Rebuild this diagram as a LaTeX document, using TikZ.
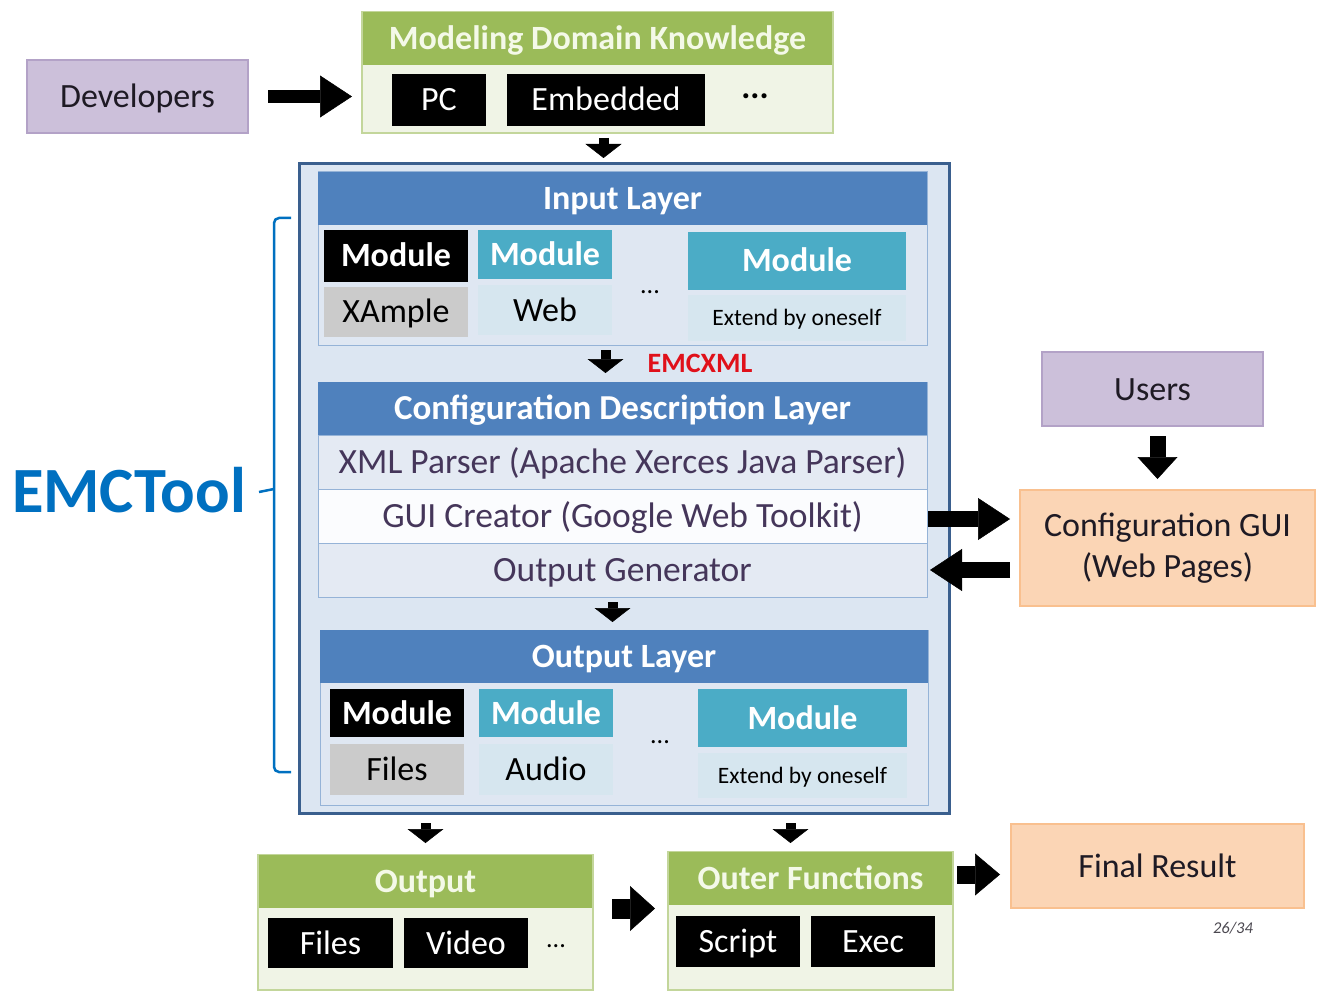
\documentclass[tikz,border=0pt]{standalone}
\usepackage{fontspec}
\setmainfont{Carlito}
\usetikzlibrary{arrows.meta}

\definecolor{lavfill}{HTML}{CCC0DA}
\definecolor{lavline}{HTML}{B3A2C7}
\definecolor{peachfill}{HTML}{FBD5B5}
\definecolor{peachline}{HTML}{F9C08F}
\definecolor{grhead}{HTML}{9BBB59}
\definecolor{grbody}{HTML}{F0F4E6}
\definecolor{grline}{HTML}{C3D69B}
\definecolor{grtext}{HTML}{F4F9E8}
\definecolor{bluehead}{HTML}{4F81BD}
\definecolor{panelbody}{HTML}{DFE7F2}
\definecolor{panelline}{HTML}{95B3D7}
\definecolor{outerfill}{HTML}{DCE6F2}
\definecolor{outerline}{HTML}{3A5F8E}
\definecolor{teal}{HTML}{4BACC6}
\definecolor{teallight}{HTML}{D6E6EF}
\definecolor{modgray}{HTML}{CBCBCB}
\definecolor{rowlight}{HTML}{E4EAF3}
\definecolor{rowwhite}{HTML}{FBFCFE}
\definecolor{purpletext}{HTML}{45365A}
\definecolor{darktext}{HTML}{1E1A24}
\definecolor{toolblue}{HTML}{0070C0}
\definecolor{xmlred}{HTML}{E0101A}

\newcommand\fsz[1]{\fontsize{#1}{#1}\selectfont}

\begin{document}
\begin{tikzpicture}[x=1pt,y=-1pt,
  every node/.style={inner sep=0pt, outer sep=0pt, align=center},
  oneline/.style={text height=27pt, text depth=5pt},
  person/.style={fill=lavfill, draw=lavline, line width=2.5pt, text=darktext, font=\fsz{34}},
  result/.style={fill=peachfill, draw=peachline, line width=2.5pt, text=darktext, font=\fsz{34}},
  greenbox/.style={fill=grbody, draw=grline, line width=1.5pt},
  greenhead/.style={fill=grhead, text=grtext, font=\bfseries\fsz{34}, oneline},
  blackbox/.style={fill=black, text=white, font=\fsz{34}, oneline},
  outerbox/.style={fill=outerfill, draw=outerline, line width=3pt},
  panel/.style={fill=panelbody, draw=panelline, line width=1pt},
  layerhead/.style={fill=bluehead, text=white, font=\bfseries\fsz{34}, oneline},
  modblack/.style={fill=black, text=white, font=\bfseries\fsz{34}, oneline},
  modteal/.style={fill=teal, text=white, font=\bfseries\fsz{34}, oneline},
  modgraylow/.style={fill=modgray, text=black, font=\fsz{34}, oneline},
  modlightlow/.style={fill=teallight, text=black, font=\fsz{34}, oneline},
  modsmall/.style={fill=teallight, text=black, font=\fsz{23.5}, text height=19pt, text depth=4pt},
  rowbox/.style={draw=panelline, line width=1pt, text=purpletext, font=\fsz{35.5}, text height=28pt, text depth=5pt},
  dots/.style={font=\fsz{26}, text=black},
  bigarrow/.style={line width=13pt, -{Triangle[length=32pt,width=42pt,line width=0.5pt]}},
  smallarrow/.style={line width=10pt, -{Triangle[length=14pt,width=36pt,line width=0.5pt]}},
]
\useasboundingbox (0,0) rectangle (1325,992);

% people and results
\node[person, oneline, minimum width=221pt, minimum height=73pt] (dev) at (137.5,96.5) {Developers};
\node[person, oneline, minimum width=221pt, minimum height=74pt] (users) at (1152.5,389) {Users};
\node[result, minimum width=295pt, minimum height=116pt] (cgui) at (1167.5,548) {Configuration GUI\\[7pt](Web Pages)};
\node[result, oneline, minimum width=293pt, minimum height=84pt] (final) at (1157.5,866) {Final Result};

% modeling domain knowledge
\node[greenbox, minimum width=471pt, minimum height=121pt] (mdk) at (597.5,72.5) {};
\node[greenhead, minimum width=469pt, minimum height=53pt] (mdkhead) at (597.5,39) {Modeling Domain Knowledge};
\node[blackbox, minimum width=94pt, minimum height=52pt] (pc) at (439,100) {PC};
\node[blackbox, minimum width=198pt, minimum height=52pt] (embedded) at (606,100) {Embedded};
\node[dots, font=\bfseries\fsz{34}] (mdkdots) at (755,96) {...};

% EMCTool container
\node[outerbox, minimum width=650pt, minimum height=649pt] (emc) at (624,488.5) {};

% input layer
\node[panel, minimum width=609pt, minimum height=173pt] (input) at (622.5,258.5) {};
\node[layerhead, minimum width=609pt, minimum height=53pt] (inhead) at (622.5,198.5) {Input Layer};
\node[modblack, minimum width=144pt, minimum height=52pt] (inA) at (396,256) {Module};
\node[modgraylow, minimum width=144pt, minimum height=50pt] (inAlow) at (396,312) {XAmple};
\node[modteal, minimum width=134pt, minimum height=49pt] (inB) at (545,254.5) {Module};
\node[modlightlow, minimum width=134pt, minimum height=50pt] (inBlow) at (545,310) {Web};
\node[dots] (indots) at (650,292) {...};
\node[modteal, minimum width=218pt, minimum height=58pt] (inC) at (797,261) {Module};
\node[modsmall, minimum width=218pt, minimum height=46pt] (inClow) at (797,318) {Extend by oneself};

\node[font=\bfseries\fsz{28}, text=xmlred] (emcxml) at (700,363) {EMCXML};

% configuration description layer
\node[panel, minimum width=609pt, minimum height=215pt] (config) at (622.5,489.5) {};
\node[layerhead, font=\bfseries\fsz{35}, minimum width=609pt, minimum height=53pt] (cfghead) at (622.5,408.5) {Configuration Description Layer};
\node[rowbox, fill=rowlight, minimum width=609pt, minimum height=54pt] (xmlrow) at (622.5,462) {XML Parser (Apache Xerces Java Parser)};
\node[rowbox, fill=rowwhite, minimum width=609pt, minimum height=54pt] (guirow) at (622.5,516) {GUI Creator (Google Web Toolkit)};
\node[rowbox, fill=rowlight, minimum width=609pt, minimum height=54pt] (outgen) at (622.5,570) {Output Generator};

% output layer
\node[panel, minimum width=608pt, minimum height=175pt] (outlayer) at (624,717.5) {};
\node[layerhead, minimum width=608pt, minimum height=53pt] (outhead) at (624,656.5) {Output Layer};
\node[modblack, minimum width=134pt, minimum height=48pt] (outA) at (397,713) {Module};
\node[modgraylow, minimum width=134pt, minimum height=51pt] (outAlow) at (397,769.5) {Files};
\node[modteal, minimum width=134pt, minimum height=48pt] (outB) at (546,713) {Module};
\node[modlightlow, minimum width=134pt, minimum height=51pt] (outBlow) at (546,769.5) {Audio};
\node[dots] (outdots) at (660,742) {...};
\node[modteal, minimum width=209pt, minimum height=58pt] (outC) at (802.5,718) {Module};
\node[modsmall, minimum width=209pt, minimum height=45pt] (outClow) at (802.5,775.5) {Extend by oneself};

% EMCTool label and brace
\node[font=\bfseries\fsz{64.5}, text=toolblue] (tool) at (129,490) {EMCTool};
\draw[toolblue, line width=2.5pt, rounded corners=5pt] (291,218) -- (274,218) -- (274,772) -- (291,772);
\draw[toolblue, line width=2.5pt] (274,489) -- (259,492);

% output
\node[greenbox, minimum width=335pt, minimum height=135pt] (out) at (425.5,922.5) {};
\node[greenhead, minimum width=333pt, minimum height=53pt] (outtitle) at (425.5,881.5) {Output};
\node[blackbox, minimum width=125pt, minimum height=50pt] (files) at (330.5,943) {Files};
\node[blackbox, minimum width=124pt, minimum height=50pt] (video) at (466,943) {Video};
\node[dots] (outbdots) at (556,946) {...};

% outer functions
\node[greenbox, minimum width=285pt, minimum height=138pt] (of) at (810.5,921) {};
\node[greenhead, minimum width=283pt, minimum height=53pt] (ofhead) at (810.5,878.5) {Outer Functions};
\node[blackbox, minimum width=124pt, minimum height=51pt] (script) at (738,941.5) {Script};
\node[blackbox, minimum width=124pt, minimum height=51pt] (exec) at (873,941.5) {Exec};

\node[font=\itshape\fsz{16.5}, text=darktext!80] (page) at (1233,928) {26/34};

% connectors
\draw[bigarrow, shorten <=20pt, shorten >=10pt] (dev.east) -- (dev.east -| mdk.west);
\draw[smallarrow, shorten <=5pt, shorten >=6pt] ([xshift=6pt]mdk.south) -- ([xshift=6pt]mdk.south |- emc.north);
\draw[smallarrow, shorten <=5pt, shorten >=9pt] ([xshift=-17pt]input.south) -- ([xshift=-17pt]input.south |- config.north);
\draw[smallarrow, shorten <=5pt, shorten >=8pt] ([xshift=-10pt]config.south) -- ([xshift=-10pt]config.south |- outlayer.north);
\draw[smallarrow, shorten <=10pt, shorten >=12pt] (out.north |- emc.south) -- (out.north);
\draw[smallarrow, shorten <=10pt, shorten >=9pt] ([xshift=-20pt]of.north |- emc.south) -- ([xshift=-20pt]of.north);
\draw[bigarrow, line width=16pt, shorten <=1pt, shorten >=10pt] ([yshift=-3pt]guirow.east) -- ([yshift=-3pt]guirow.east -| cgui.west);
\draw[bigarrow, line width=16pt, shorten <=10pt, shorten >=3pt] (cgui.west |- outgen.east) -- (outgen.east);
\draw[bigarrow, line width=16pt, -{Triangle[length=22pt,width=40pt,line width=0.5pt]}, shorten <=10pt, shorten >=11pt] ([xshift=5pt]users.south) -- ([xshift=5pt]users.south |- cgui.north);
\draw[bigarrow, line width=20pt, -{Triangle[length=25pt,width=45pt,line width=0.5pt]}, shorten <=19pt, shorten >=13pt] ([yshift=14pt]out.east) -- ([yshift=14pt]out.east -| of.west);
\draw[bigarrow, line width=18pt, -{Triangle[length=25pt,width=42pt,line width=0.5pt]}, shorten <=5pt, shorten >=11pt] ([yshift=4pt]ofhead.east) -- ([yshift=4pt]ofhead.east -| final.west);
\end{tikzpicture}
\end{document}
